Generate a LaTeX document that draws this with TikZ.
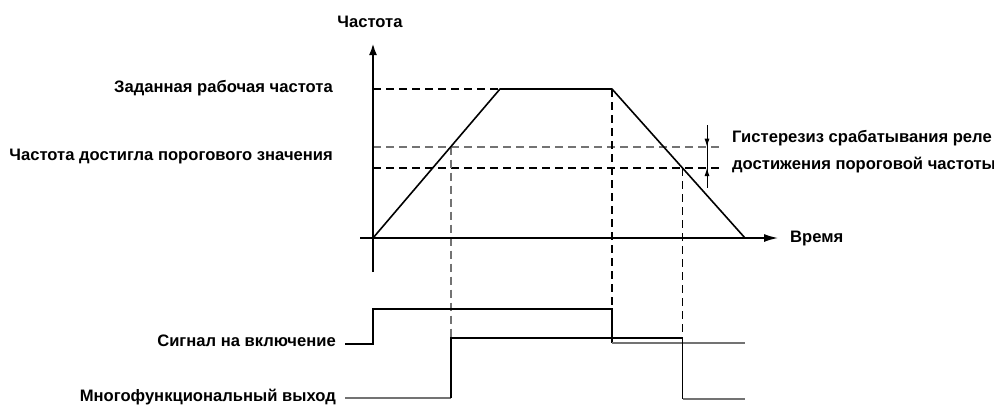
\documentclass[tikz,border=0pt]{standalone}
\usepackage{fontspec}
\setmainfont{Liberation Sans}
\usetikzlibrary{arrows.meta, positioning}

\begin{document}
\begin{tikzpicture}[x=1pt, y=-1pt,
  lbl/.style={font=\bfseries\fontsize{16.6}{18}\selectfont, inner sep=0pt},
  curve/.style={line width=1.6pt, line join=round},
  dashblack/.style={line width=1.9pt, dash pattern=on 8pt off 5pt},
  dashgray/.style={dashblack, black!55},
  sighigh/.style={line width=1.4pt},
  siglow/.style={line width=2pt, black!55}]
  \useasboundingbox (0,0) rectangle (994,405);

  % key points of the frequency curve
  \coordinate (O) at (373,238);
  \coordinate (A) at (500,89);
  \coordinate (B) at (612,89);
  \coordinate (C) at (745,238);
  \coordinate (U) at (451,146.7);
  \coordinate (D) at (682.5,168);

  % threshold and reference lines
  \draw[dashblack] (373,89) -- (A);
  \draw[dashgray] (373,146.7) -- (720,146.7);
  \draw[dashblack] (373,168) -- (720,168);
  \draw[dashgray] (U) -- (451,338);
  \draw[dashblack] (B) -- (612,309);
  \draw[dashblack] (D) -- (682.5,400);

  % axes
  \draw[line width=2.8pt, -{Latex[length=12pt, width=8pt]}] (373,272) -- (373,43);
  \draw[line width=1.5pt, -{Latex[length=14pt, width=8pt]}] (360,238) -- (778,238);

  % frequency curve
  \draw[curve] (O) -- (A) -- (B) -- (C);

  % hysteresis marker
  \draw[line width=1pt] (707,125) -- (707,188);
  \draw[line width=1pt, -{Latex[length=8pt, width=5pt]}] (707,126) -- (707,146.7);
  \draw[line width=1pt, -{Latex[length=8pt, width=5pt]}] (707,187) -- (707,168);

  % run signal
  \draw[sighigh] (345,344) -- (373,344) -- (373,309) -- (612,309) -- (612,343);
  \draw[siglow] (612,343) -- (745,343);

  % multifunction output
  \draw[siglow] (345,398) -- (451,398);
  \draw[sighigh] (451,398) -- (451,338) -- (682.5,338) -- (682.5,399);
  \draw[siglow] (682.5,399) -- (745,399);

  % labels
  \node[lbl] (freq) at (370,22) {Частота};
  \node[lbl, anchor=west] (time) at (790,239) {Время};
  \node[lbl, anchor=east] (setf) at (333,88) {Заданная рабочая частота};
  \node[lbl, anchor=east] (thrf) at (333,157) {Частота достигла порогового значения};
  \node[lbl, anchor=west] (hys1) at (732,138) {Гистерезиз срабатывания реле};
  \node[lbl, anchor=west] (hys2) at (732,165) {достижения пороговой частоты};
  \node[lbl, anchor=east] (run) at (336,341) {Сигнал на включение};
  \node[lbl, anchor=east] (mfo) at (336,397) {Многофункциональный выход};
\end{tikzpicture}
\end{document}
